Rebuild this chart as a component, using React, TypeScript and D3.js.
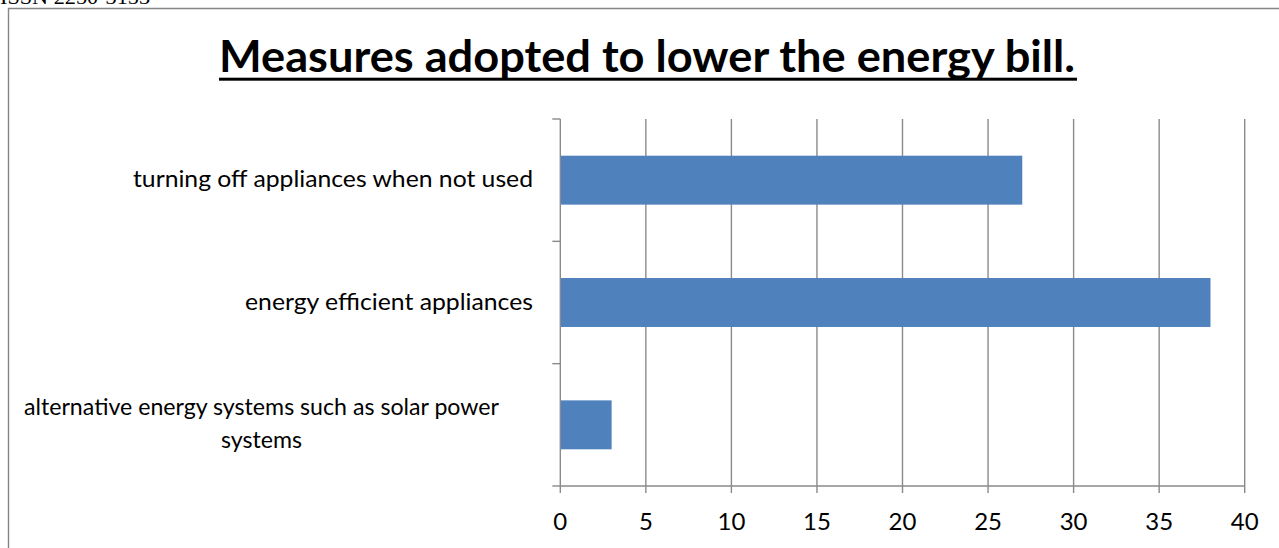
import React from "react";
import * as d3 from "d3";

const categories = [
  "turning off appliances when not used",
  "energy efficient appliances",
  "alternative energy systems such as solar power systems",
];
const categoryLines = [
  ["turning off appliances when not used"],
  ["energy efficient appliances"],
  ["alternative energy systems such as solar power", "systems"],
];
const values = [27, 38, 3];
const xTicks = [0, 5, 10, 15, 20, 25, 30, 35, 40];
const title = "Measures adopted to lower the energy bill.";
const header = "ISSN 2250-3153";

const W = 1279;
const H = 548;
const FONT = "Lato, 'Open Sans', sans-serif";

export default function App() {
  const x = d3.scaleLinear().domain([0, 40]).range([560.3, 1244.7]);
  const y = d3
    .scaleBand<string>()
    .domain(categories)
    .range([119, 486])
    .paddingInner(0.6)
    .paddingOuter(0.3);
  const step = y.step();
  const top = 119;
  const bottom = 486;
  const grid = "#8a8a8a";
  const labelWidths = [400, 288];

  return (
    <svg
      width={W}
      height={H}
      style={{ position: "absolute", left: 0, top: 0, background: "#fff" }}
    >
      <rect x={0} y={0} width={W} height={H} fill="#fff" />
      {/* header */}
      <text
        x={0}
        y={4}
        fontFamily="'Liberation Serif', serif"
        fontSize={20}
        textLength={150}
        lengthAdjust="spacingAndGlyphs"
        fill="#000"
      >
        {header}
      </text>
      {/* frame */}
      <path d={`M8.5,${H} V8.5 H${W}`} fill="none" stroke="#858585" strokeWidth={1.4} />

      {/* title */}
      <text
        x={219}
        y={72}
        fontFamily={FONT}
        fontWeight="bold"
        fontSize={43}
        textLength={856}
        lengthAdjust="spacingAndGlyphs"
        fill="#000"
      >
        {title}
      </text>
      <rect x={219} y={77.7} width={858} height={3} fill="#000" />

      {/* gridlines */}
      {xTicks.map((t) => (
        <line
          key={"g" + t}
          x1={x(t)}
          x2={x(t)}
          y1={top}
          y2={bottom + 7}
          stroke={grid}
          strokeWidth={1.4}
        />
      ))}
      {/* x axis line */}
      <line x1={x(0)} x2={x(40)} y1={bottom} y2={bottom} stroke={grid} strokeWidth={1.4} />
      {/* category ticks */}
      {d3.range(categories.length + 1).map((i) => (
        <line
          key={"ct" + i}
          x1={x(0) - 8}
          x2={x(0)}
          y1={top + i * step}
          y2={top + i * step}
          stroke={grid}
          strokeWidth={1.4}
        />
      ))}

      {/* bars */}
      {categories.map((c, i) => (
        <rect
          key={c}
          x={x(0) + 0.7}
          y={y(c)!}
          width={x(values[i]) - x(0) - 0.7}
          height={y.bandwidth()}
          fill="#4F81BD"
        />
      ))}

      {/* x tick labels */}
      {xTicks.map((t) => (
        <text
          key={"xl" + t}
          x={x(t)}
          y={529.5}
          textAnchor="middle"
          fontFamily={FONT}
          fontSize={24}
          fill="#000"
        >
          {t}
        </text>
      ))}

      {/* category labels */}
      {categories.map((c, i) => {
        const lines = categoryLines[i];
        const cy = (y(c) ?? 0) + y.bandwidth() / 2;
        if (lines.length === 1) {
          return (
            <text
              key={"cl" + i}
              x={533}
              y={cy + 7}
              textAnchor="end"
              fontFamily={FONT}
              fontSize={24}
              textLength={labelWidths[i]}
              lengthAdjust="spacingAndGlyphs"
              fill="#000"
            >
              {lines[0]}
            </text>
          );
        }
        const lh = 33;
        const widths = [475, 81];
        return lines.map((ln, j) => (
          <text
            key={"cl" + i + "_" + j}
            x={261.5}
            y={cy + 7 + (j - (lines.length - 1) / 2) * lh}
            textAnchor="middle"
            fontFamily={FONT}
            fontSize={24}
            textLength={widths[j]}
            lengthAdjust="spacingAndGlyphs"
            fill="#000"
          >
            {ln}
          </text>
        ));
      })}
    </svg>
  );
}
